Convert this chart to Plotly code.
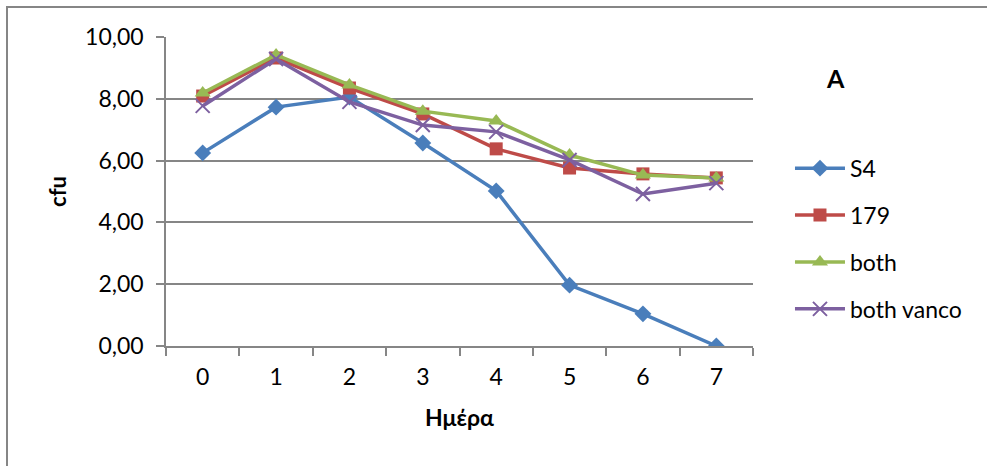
import plotly.graph_objects as go

days = ["0", "1", "2", "3", "4", "5", "6", "7"]
s4 = [6.25, 7.73, 8.06, 6.57, 5.02, 1.97, 1.04, 0.0]
s179 = [8.09, 9.32, 8.35, 7.51, 6.38, 5.76, 5.57, 5.44]
both = [8.19, 9.42, 8.45, 7.60, 7.28, 6.18, 5.53, 5.44]
both_vanco = [7.77, 9.29, 7.90, 7.15, 6.93, 6.02, 4.92, 5.27]

names = ["S4", "179", "both", "both vanco"]
colors = ["#4A7EBB", "#BE4B48", "#98B954", "#7D60A0"]
symbols = ["diamond", "square", "triangle-up", "x-thin"]
sizes = [13, 13, 14, 14]

FONT = "Lato"
fig = go.Figure()
for i, (nm, ys) in enumerate(zip(names, [s4, s179, both, both_vanco])):
    marker = dict(symbol=symbols[i], size=sizes[i], color=colors[i])
    if symbols[i] == "x-thin":
        marker["line"] = dict(color=colors[i], width=2)
    fig.add_trace(go.Scatter(
        x=days, y=ys, name=nm, mode="lines+markers",
        line=dict(color=colors[i], width=3.5),
        marker=marker, legendgroup=nm,
    ))

fig.update_layout(
    width=987, height=466,
    margin=dict(l=166, r=234, t=37, b=120),
    paper_bgcolor="white", plot_bgcolor="white",
    separators=", ",
    font=dict(family=FONT, size=23, color="black"),
    showlegend=True,
    legend=dict(x=1.063, y=0.645, xanchor="left", yanchor="top",
                font=dict(family=FONT, size=23, color="black"),
                tracegroupgap=14, itemwidth=50, bgcolor="rgba(0,0,0,0)"),
    xaxis=dict(type="category", range=[-0.5, 7.5], showgrid=False,
               showline=True, linecolor="#868686", linewidth=1.5,
               ticks="outside", tickson="boundaries", ticklen=8,
               tickcolor="#868686", tickwidth=1.5,
               tickfont=dict(size=23), ticklabelstandoff=10, zeroline=False,
               title=dict(text="<b>Ημέρα</b>", font=dict(size=23), standoff=21)),
    yaxis=dict(range=[0, 10], dtick=2, tickformat=".2f", showgrid=True,
               gridcolor="#868686", gridwidth=1.5,
               showline=True, linecolor="#868686", linewidth=1.5,
               ticks="outside", ticklen=8, tickcolor="#868686", tickwidth=1.5,
               tickfont=dict(size=23), ticklabelstandoff=8, zeroline=False,
               title=dict(text="<b>cfu</b>", font=dict(size=22), standoff=12)),
)

fig.add_annotation(text="<b>A</b>", xref="paper", yref="paper",
                   x=(835 - 166) / 587, y=(346 - 78) / 309,
                   xanchor="center", yanchor="middle",
                   showarrow=False, font=dict(size=25, family=FONT))

fig.add_shape(type="rect", xref="paper", yref="paper",
              x0=(7 - 166) / 587, x1=(1000 - 166) / 587,
              y0=(346 - 480) / 309, y1=(346 - 7) / 309,
              line=dict(color="#868686", width=2), layer="below")

fig.write_html("out.html")
